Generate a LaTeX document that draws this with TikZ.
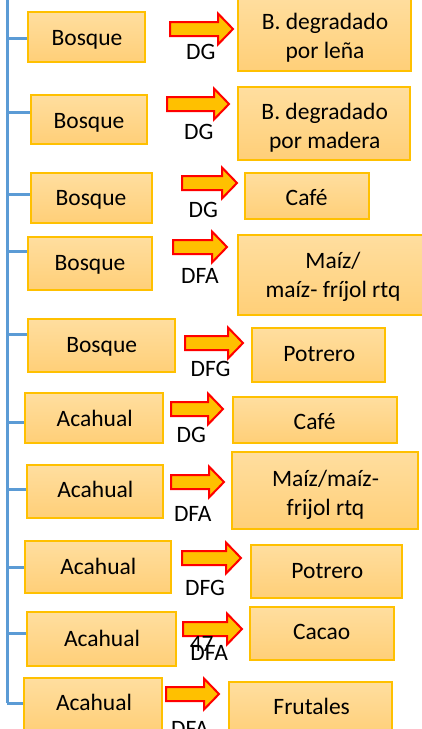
\documentclass[tikz,border=0pt]{standalone}
\usepackage{fontspec}
\setmainfont{Carlito}
\definecolor{boxtop}{HTML}{FFDE9F}
\definecolor{boxbot}{HTML}{FFCF78}
\definecolor{boxline}{HTML}{FFC000}
\definecolor{arrowfill}{HTML}{FFC000}
\definecolor{treeblue}{HTML}{5B9BD5}
\tikzset{
  box/.style={draw=boxline, line width=1.2pt, top color=boxtop, bottom color=boxbot, inner sep=0pt},
  txt/.style={font=\fontsize{23.5}{29}\selectfont, inner sep=0pt, align=center},
  lab/.style={font=\fontsize{23.5}{29}\selectfont, inner sep=0pt, anchor=base},
  blockarrow/.style={draw=red, line width=2pt, fill=arrowfill, line join=miter},
  tree/.style={draw=treeblue, line width=3pt}
}
\newcommand\blockarr[3]{%
  \draw[blockarrow] (#1,#3-7) -- (#2-15,#3-7) -- (#2-15,#3-15.5) -- (#2,#3) -- (#2-15,#3+15.5) -- (#2-15,#3+7) -- (#1,#3+7) -- cycle;}
\begin{document}
\begin{tikzpicture}[x=1pt,y=-1pt]
\useasboundingbox (0,0) rectangle (422,729);
\begin{scope}
\clip (0,0) rectangle (422,729);
% left boxes
\node[box, minimum width=117pt, minimum height=50pt] (L1) at (86.5,37) {};
\node[box, minimum width=116pt, minimum height=49pt] (L2) at (89,119.5) {};
\node[box, minimum width=121pt, minimum height=50pt] (L3) at (91.5,198) {};
\node[box, minimum width=124pt, minimum height=53pt] (L4) at (90,263.5) {};
\node[box, minimum width=147pt, minimum height=53pt] (L5) at (101.5,345.5) {};
\node[box, minimum width=138pt, minimum height=50pt] (L6) at (94,418) {};
\node[box, minimum width=136pt, minimum height=53pt] (L7) at (95,491.5) {};
\node[box, minimum width=146pt, minimum height=52pt] (L8) at (98,567) {};
\node[box, minimum width=149pt, minimum height=54pt] (L9) at (101.5,639) {};
\node[box, minimum width=138pt, minimum height=54pt] (L10) at (93,705) {};
% right boxes
\node[box, minimum width=173pt, minimum height=75pt] (R1) at (324.5,33.5) {};
\node[box, minimum width=172pt, minimum height=73pt] (R2) at (324,123.5) {};
\node[box, minimum width=124pt, minimum height=46pt] (R3) at (307,196) {};
\node[box, minimum width=186pt, minimum height=80pt] (R4) at (331,275) {};
\node[box, minimum width=133pt, minimum height=54pt] (R5) at (318.5,355) {};
\node[box, minimum width=164pt, minimum height=46pt] (R6) at (315,420) {};
\node[box, minimum width=186pt, minimum height=77pt] (R7) at (325,490.5) {};
\node[box, minimum width=151pt, minimum height=53pt] (R8) at (326.5,571.5) {};
\node[box, minimum width=144pt, minimum height=53pt] (R9) at (322,633.5) {};
\node[box, minimum width=163pt, minimum height=54pt] (R10) at (310.5,709) {};
% tree
\coordinate (trunk) at (7,-2);
\coordinate (trunkend) at (7,703);
\draw[tree] (trunk) -- (trunkend);
\draw[tree] (trunk |- 0,38) -- (L1.west |- 0,38);
\draw[tree] (trunk |- 0,112) -- (L2.west |- 0,112);
\draw[tree] (trunk |- 0,194) -- (L3.west |- 0,194);
\draw[tree] (trunk |- 0,251) -- (L4.west |- 0,251);
\draw[tree] (trunk |- 0,334) -- (L5.west |- 0,334);
\draw[tree] (trunk |- 0,422) -- (L6.west |- 0,422);
\draw[tree] (trunk |- 0,489) -- (L7.west |- 0,489);
\draw[tree] (trunk |- 0,567) -- (L8.west |- 0,567);
\draw[tree] (trunk |- 0,633) -- (L9.west |- 0,633);
\draw[tree] (trunkend) -- (L10.west |- trunkend);
% arrows
\blockarr{170}{233}{29}
\blockarr{167}{229}{104}
\blockarr{182}{237}{183}
\blockarr{173}{227}{247}
\blockarr{185}{243}{343}
\blockarr{171}{223}{409}
\blockarr{171}{224}{482}
\blockarr{182}{241}{558}
\blockarr{183}{242}{629}
\blockarr{166}{219}{694}
% left texts
\node[lab] (L1t) at (87,45) {Bosque};
\node[lab] (L2t) at (89,128) {Bosque};
\node[lab] (L3t) at (91,205.7) {Bosque};
\node[lab] (L4t) at (90,270.7) {Bosque};
\node[lab] (L5t) at (101.7,352.7) {Bosque};
\node[lab] (L6t) at (94.7,426) {Acahual};
\node[lab] (L7t) at (95.3,497) {Acahual};
\node[lab] (L8t) at (98.3,574) {Acahual};
\node[lab] (L9t) at (102,646) {Acahual};
\node[lab] (L10t) at (94,710) {Acahual};
% right texts
\node[txt] (R1t) at (325,38) {B. degradado\\por leña};
\node[txt] (R2t) at (324.7,128.2) {B. degradado\\por madera};
\node[lab] (R3t) at (306.7,205) {Café};
\node[txt] (R4t) at (333,277.2) {Maíz/\\maíz- fríjol rtq};
\node[lab] (R5t) at (319.3,361.7) {Potrero};
\node[lab] (R6t) at (314.7,429) {Café};
\node[txt] (R7t) at (325.5,494.4) {Maíz/maíz-\\frijol rtq};
\node[lab] (R8t) at (327.3,578.3) {Potrero};
\node[lab] (R9t) at (321.7,639) {Cacao};
\node[lab] (R10t) at (311.7,714) {Frutales};
% arrow labels
\node[lab] (A1t) at (200.8,59.3) {DG};
\node[lab] (A2t) at (198.7,139.3) {DG};
\node[lab] (A3t) at (203.3,217.7) {DG};
\node[lab] (A4t) at (200,283.3) {DFA};
\node[lab] (A5t) at (210.5,376.7) {DFG};
\node[lab] (A6t) at (191.3,442.7) {DG};
\node[lab] (A7t) at (192.8,521.7) {DFA};
\node[lab] (A8t) at (205,595) {DFG};
\node[lab] (A9t) at (209.2,660.7) {DFA};
\node[lab] (pg) at (201.7,651.7) {47};
\node[lab] (A10t) at (190,736) {DFA};
\end{scope}
\end{tikzpicture}
\end{document}
